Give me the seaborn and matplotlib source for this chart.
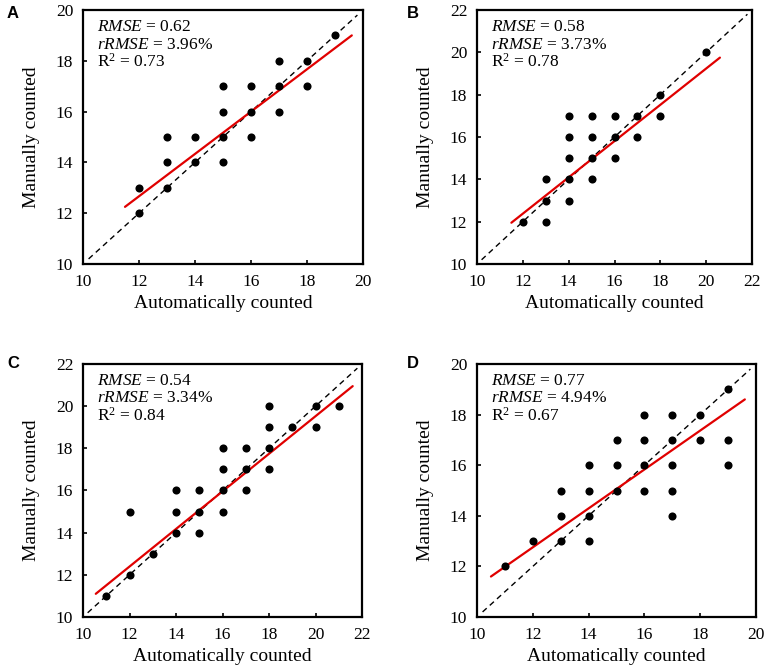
import numpy as np
import pandas as pd
import matplotlib
matplotlib.use("Agg")
import matplotlib.pyplot as plt
import seaborn as sns

sns.set_theme(style="white")
plt.rcParams['font.family'] = ['Liberation Serif', 'DejaVu Serif']
plt.rcParams['mathtext.fontset'] = 'custom'
plt.rcParams['mathtext.rm'] = 'Liberation Serif'
plt.rcParams['mathtext.it'] = 'Liberation Serif:italic'

# ---- Data ----
a_auto = [12, 12, 13, 13, 13, 14, 14, 15, 15, 15, 15, 16, 16, 16, 17, 17, 17, 18, 18, 19]
a_manual = [13, 12, 15, 14, 13, 15, 14, 17, 16, 15, 14, 17, 16, 15, 18, 17, 16, 18, 17, 19]
a_fit_x = [11.5, 19.6]
a_fit_y = [12.25, 19.0]

b_auto = [12, 13, 13, 13, 14, 14, 14, 14, 14, 15, 15, 15, 15, 16, 16, 16, 17, 17, 18, 18, 20]
b_manual = [12, 14, 13, 12, 17, 16, 15, 14, 13, 17, 16, 15, 14, 17, 16, 15, 17, 16, 18, 17, 20]
b_fit_x = [11.5, 20.6]
b_fit_y = [11.95, 19.75]

c_auto = [11, 12, 12, 13, 14, 14, 14, 15, 15, 15, 16, 16, 16, 16, 17, 17, 17, 18, 18, 18, 18, 19, 20, 20, 21]
c_manual = [11, 15, 12, 13, 16, 15, 14, 16, 15, 14, 18, 17, 16, 15, 18, 17, 16, 20, 19, 18, 17, 19, 20, 19, 20]
c_fit_x = [10.55, 21.6]
c_fit_y = [11.1, 20.95]

d_auto = [11, 12, 13, 13, 13, 14, 14, 14, 14, 15, 15, 15, 16, 16, 16, 16, 17, 17, 17, 17, 17, 18, 18, 19, 19, 19]
d_manual = [12, 13, 15, 14, 13, 16, 15, 14, 13, 17, 16, 15, 18, 17, 16, 15, 18, 17, 16, 15, 14, 18, 17, 19, 17, 16]
d_fit_x = [10.5, 19.6]
d_fit_y = [11.6, 18.6]

panel_letters = ["A", "B", "C", "D"]
axis_limits = [(10, 20), (10, 22), (10, 22), (10, 20)]
rmse_vals = ["0.62", "0.58", "0.54", "0.77"]
rrmse_vals = ["3.96%", "3.73%", "3.34%", "4.94%"]
r2_vals = ["0.73", "0.78", "0.84", "0.67"]
xlabel = "Automatically counted"
ylabel = "Manually counted"

panels = [
    (a_auto, a_manual, a_fit_x, a_fit_y),
    (b_auto, b_manual, b_fit_x, b_fit_y),
    (c_auto, c_manual, c_fit_x, c_fit_y),
    (d_auto, d_manual, d_fit_x, d_fit_y),
]

W, H = 767, 671
fig = plt.figure(figsize=(W / 100, H / 100), dpi=100)
# axes boxes in pixels: left, top, right, bottom
boxes = [(83, 10, 363, 264), (477, 10, 752, 264), (83, 364, 362, 617), (477, 364, 756, 617)]
letter_pos = [(13, 13), (413, 13), (13, 363), (413, 363)]

for i, ((xs, ys, fx, fy), box) in enumerate(zip(panels, boxes)):
    l, t, r, b = box
    ax = fig.add_axes([l / W, (H - b) / H, (r - l) / W, (b - t) / H])
    lo, hi = axis_limits[i]
    df = pd.DataFrame({"auto": xs, "manual": ys})
    # 1:1 line
    ax.plot([lo + 0.2, hi - 0.2], [lo + 0.2, hi - 0.2], color="black", ls=(0, (4, 3)), lw=1.0, zorder=1)
    sns.scatterplot(data=df, x="auto", y="manual", ax=ax, color="black", s=34,
                    edgecolor="black", linewidth=0, zorder=3)
    fdf = pd.DataFrame({"x": fx, "y": fy})
    sns.lineplot(data=fdf, x="x", y="y", ax=ax, color="#e00000", lw=1.6, zorder=2)
    ax.set_xlim(lo, hi)
    ax.set_ylim(lo, hi)
    ticks = np.arange(lo, hi + 1, 2)
    ax.set_xticks(ticks)
    ax.set_yticks(ticks)
    ax.tick_params(direction="in", length=3, width=1.2, labelsize=12.5, pad=7,
                   bottom=True, left=True, top=False, right=False, colors="black")
    for sp in ax.spines.values():
        sp.set_linewidth(1.6)
        sp.set_color("black")
    ax.set_xlabel(xlabel, fontsize=14, color="black", labelpad=4)
    ax.set_ylabel(ylabel, fontsize=14, color="black", labelpad=11)
    ax.grid(False)
    fs = 12.5
    ax.text(0.05, 0.933, r"$\it{RMSE}$ = " + rmse_vals[i], transform=ax.transAxes,
            fontsize=fs, va="center", ha="left", color="black")
    ax.text(0.05, 0.864, r"$\it{rRMSE}$ = " + rrmse_vals[i], transform=ax.transAxes,
            fontsize=fs, va="center", ha="left", color="black")
    ax.text(0.05, 0.795, r"R$^2$ = " + r2_vals[i], transform=ax.transAxes,
            fontsize=fs, va="center", ha="left", color="black")
    lx, ly = letter_pos[i]
    fig.text(lx / W, 1 - ly / H, panel_letters[i], fontsize=12, fontweight="bold",
             family="Liberation Sans", ha="center", va="center", color="black")

fig.savefig("out.png", dpi=100, facecolor="white")
